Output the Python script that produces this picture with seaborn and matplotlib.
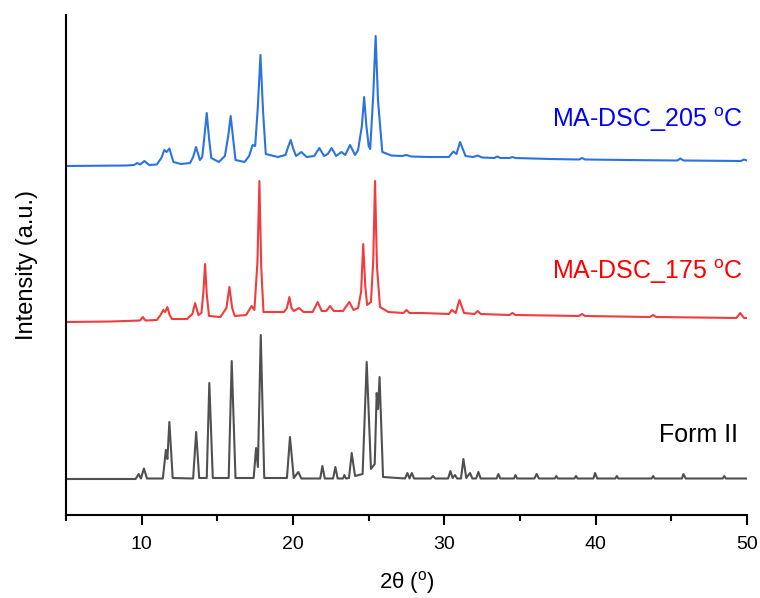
import pandas as pd
import matplotlib
matplotlib.use('Agg')
import matplotlib.pyplot as plt
import seaborn as sns

# 2theta / intensity (intensity relative to each trace's baseline)
form2_tt = [5, 9.6, 9.8, 9.95, 10.15, 10.35, 11.4, 11.6, 11.7, 11.83, 12.05, 13.4, 13.6, 13.8,
            14.3, 14.47, 14.7, 15.75, 15.95, 16.2, 17.4, 17.56, 17.68, 17.87, 18.1, 19.6, 19.8,
            20.05, 20.35, 20.55, 21.8, 21.94, 22.1, 22.65, 22.8, 22.95, 23.3, 23.4, 23.5, 23.7,
            23.88, 24.1, 24.6, 24.87, 25.15, 25.4, 25.53, 25.62, 25.72, 25.95, 27.4, 27.56, 27.7,
            27.85, 28.0, 29.1, 29.25, 29.4, 30.25, 30.4, 30.55, 30.7, 30.85, 31.1, 31.26, 31.45,
            31.7, 31.85, 32.1, 32.25, 32.4, 33.45, 33.57, 33.7, 34.6, 34.7, 34.8, 35.95, 36.1,
            36.25, 37.3, 37.4, 37.5, 38.6, 38.7, 38.8, 39.85, 39.96, 40.1, 41.3, 41.4, 41.5, 43.7,
            43.8, 43.9, 45.7, 45.8, 45.95, 48.4, 48.5, 48.6, 50]
form2_int = [0, 0, 5, 0.5, 10.5, 0.5, 0.5, 29, 20, 57, 1, 0.5, 47, 1,
             1, 96, 1, 1, 118, 1, 1, 31, 12, 144, 1, 1, 42,
             1, 7, 0.5, 0.5, 13, 0.5, 0.5, 12, 0.5, 0.5, 4, 0.5, 1,
             26, 3, 5, 117, 10, 15, 86, 70, 102, 2, 0.5, 6, 0.5,
             6, 0.5, 0.5, 3, 0.5, 0.5, 8, 1, 4, 0.5, 0.5, 20, 1,
             6, 0.5, 0.5, 7, 0.5, 0.5, 5, 0.5, 0.5, 4, 0.5, 0.5, 5,
             0.5, 0.5, 3, 0.5, 0.5, 3, 0.5, 0.5, 6, 0.5, 0.5, 3, 0.5, 0.5,
             3, 0.5, 0.5, 5, 0.5, 0.5, 3, 0.5, 0.5]

dsc175_tt = [5, 8, 9.9, 10.07, 10.25, 11.0, 11.25, 11.43, 11.55, 11.7, 11.85, 12.0, 13.0, 13.35,
             13.53, 13.75, 13.95, 14.08, 14.19, 14.3, 14.45, 15.2, 15.6, 15.8, 15.98, 16.15, 16.9,
             17.27, 17.45, 17.65, 17.78, 17.9, 18.05, 19.4, 19.6, 19.76, 19.9, 20.05, 20.4, 20.7,
             21.3, 21.63, 21.9, 22.2, 22.45, 22.7, 23.3, 23.72, 24.0, 24.3, 24.5, 24.64, 24.78,
             24.9, 25.15, 25.3, 25.42, 25.55, 25.75, 26.3, 27.3, 27.5, 27.7, 28.5, 30.3, 30.5,
             30.75, 31.0, 31.3, 32.0, 32.2, 32.4, 34.3, 34.5, 34.7, 38.9, 39.1, 39.3, 43.6, 43.8,
             44.0, 49.3, 49.55, 49.8, 50]
dsc175_int = [0, 0.5, 1.5, 5, 1.5, 2, 7, 12, 10, 15, 7, 3, 3, 8,
              19, 7, 9, 30, 58, 28, 6, 5, 14, 35, 14, 6, 7,
              16, 12, 60, 141, 55, 10, 10, 14, 25, 14, 11, 14, 10,
              10, 20, 11, 11, 16, 11, 11, 20, 12, 14, 30, 78, 35,
              17, 20, 60, 141, 55, 15, 10, 9, 12, 9, 9, 8, 12,
              9, 22, 9, 8, 11, 8, 7, 9, 7, 6, 8, 6, 5, 7,
              5, 4, 9, 4, 4]

dsc205_tt = [5, 9.0, 9.5, 9.71, 9.9, 10.18, 10.5, 11.0, 11.3, 11.5, 11.65, 11.83, 12.1, 12.6, 13.2,
             13.4, 13.59, 13.85, 14.0, 14.15, 14.3, 14.45, 14.6, 15.1, 15.5, 15.72, 15.88, 16.04,
             16.2, 16.8, 17.1, 17.33, 17.5, 17.68, 17.85, 18.02, 18.2, 19.0, 19.5, 19.7, 19.85,
             20.0, 20.2, 20.55, 20.9, 21.4, 21.74, 22.05, 22.3, 22.55, 22.85, 23.2, 23.45, 23.77,
             24.1, 24.3, 24.55, 24.7, 24.85, 25.0, 25.1, 25.3, 25.46, 25.62, 25.9, 26.5, 27.2, 27.5,
             27.8, 29, 30.3, 30.6, 30.8, 31.04, 31.4, 31.9, 32.2, 32.5, 33.3, 33.5, 33.7, 34.3, 34.5,
             34.7, 37, 38.9, 39.1, 39.3, 42, 45.4, 45.6, 45.8, 49.6, 49.8, 50]
dsc205_int = [0, 0.5, 1, 3, 1.5, 5, 1, 1.5, 8, 16, 14, 17.5, 4, 2, 3,
              9, 19, 6, 9, 30, 53, 28, 8, 4, 10, 30, 50, 28,
              6, 4, 10, 21, 20, 60, 111, 55, 12, 9, 11, 20, 26,
              18, 10, 14, 9, 10, 18, 10, 12, 18, 10, 14, 11, 21,
              11, 16, 40, 69, 40, 20, 17, 70, 130, 65, 14, 10.5, 10, 11,
              9.5, 9, 9, 14.5, 12, 24, 10, 9, 10.5, 8.5, 8, 9.5, 8, 8, 9,
              8, 7, 6.5, 8, 6.5, 6, 5.5, 7.5, 5.5, 5, 6.5, 5.5]

labels = ['Form II', 'MA-DSC_175 $^{\\mathrm{o}}$C', 'MA-DSC_205 $^{\\mathrm{o}}$C']
offsets = [36, 193, 349]
line_colors = ['#505050', '#f03c3c', '#2b73e0']
text_colors = ['black', '#ff0000', '#0000ff']

sns.set_style('ticks')
plt.rcParams['font.family'] = ['Liberation Sans', 'DejaVu Sans']
plt.rcParams['mathtext.fontset'] = 'custom'
plt.rcParams['mathtext.rm'] = 'Liberation Sans'

fig = plt.figure(figsize=(7.6, 5.98), dpi=100)
ax = fig.add_axes([66 / 760, 83 / 598, 681 / 760, 500 / 598])

series = [(form2_tt, form2_int), (dsc175_tt, dsc175_int), (dsc205_tt, dsc205_int)]
for (tt, inten), off, c in zip(series, offsets, line_colors):
    df = pd.DataFrame({'tt': tt, 'y': [v + off for v in inten]})
    sns.lineplot(data=df, x='tt', y='y', ax=ax, color=c, linewidth=1.5, sort=False)

ax.text(49.4, 80, labels[0], color=text_colors[0], fontsize=18, ha='right', va='center')
ax.text(49.75, 243, labels[1], color=text_colors[1], fontsize=18, ha='right', va='center')
ax.text(49.75, 395, labels[2], color=text_colors[2], fontsize=18, ha='right', va='center')

ax.set_xlim(5, 50)
ax.set_ylim(0, 500)
ax.set_xticks([10, 20, 30, 40, 50])
ax.set_xticks([5, 15, 25, 35, 45], minor=True)
ax.set_yticks([])
ax.tick_params(axis='x', which='major', direction='out', length=7, width=1.5, labelsize=14,
               pad=8, colors='black')
ax.tick_params(axis='x', which='minor', direction='out', length=4, width=1.5, colors='black')
for s in ['left', 'bottom']:
    ax.spines[s].set_linewidth(1.5)
    ax.spines[s].set_color('black')
sns.despine(ax=ax)
ax.set_xlabel('2θ ($^{\\mathrm{o}}$)', fontsize=16, labelpad=12, color='black')
ax.set_ylabel('Intensity (a.u.)', fontsize=17, labelpad=20, color='black')

fig.savefig('out.png', dpi=100)
